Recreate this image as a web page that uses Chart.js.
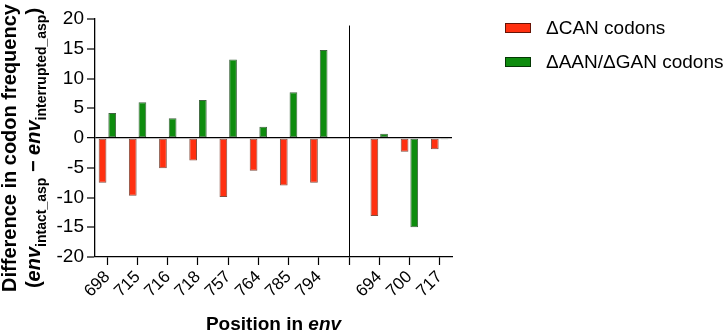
<!DOCTYPE html>
<html><head><meta charset="utf-8">
<script src="https://cdn.jsdelivr.net/npm/chart.js@4/dist/chart.umd.min.js"></script>
<style>html,body{margin:0;padding:0;background:#fff;overflow:hidden}</style>
</head><body>
<canvas id="c" width="723" height="331"></canvas>
<script>
// ---- data ----
const positions = ['698','715','716','718','757','764','785','794','','694','700','717'];
const canValues = [-7.5,-9.7,-5.1,-3.8,-9.9,-5.5,-8.0,-7.5,null,-13.1,-2.3,-1.9];
const aanGanValues = [4.2,6.0,3.3,6.4,13.2,1.9,7.7,14.8,null,0.7,-15.0,-0.2];
const yTicks = [-20,-15,-10,-5,0,5,10,15,20];
const seriesLabels = ['\u0394CAN codons','\u0394AAN/\u0394GAN codons'];
const seriesColors = ['#FF3010','#0E8C0E'];
const yTitleLine1 = 'Difference in codon frequency';
const yTitleLine2 = [['(', 'n'], ['env', 'i'], ['intact_asp', 's'], [' \u2212 ', 'n'], ['env', 'i'], ['interrupted_asp', 's'], [')', 'n']];
const xTitle = [['Position in ', 'n'], ['env', 'i']];

const FAM = "'Liberation Sans', Arial, sans-serif";
Chart.defaults.font.family = FAM;
Chart.defaults.color = '#000';

function fontFor(kind, size) {
  if (kind === 'i') return 'italic bold ' + size + 'px ' + FAM;
  if (kind === 's') return 'bold ' + Math.round(size * 0.68) + 'px ' + FAM;
  return 'bold ' + size + 'px ' + FAM;
}
function drawRich(ctx, segs, size, cx, cy) {
  let total = 0;
  segs.forEach(s => { ctx.font = fontFor(s[1], size); total += ctx.measureText(s[0]).width; });
  let x = cx - total / 2;
  ctx.textAlign = 'left';
  ctx.textBaseline = 'alphabetic';
  segs.forEach(s => {
    ctx.font = fontFor(s[1], size);
    ctx.fillText(s[0], x, cy + (s[1] === 's' ? size * 0.28 : 0));
    x += ctx.measureText(s[0]).width;
  });
}

const extras = {
  id: 'extras',
  afterDatasetsDraw(chart) {
    const ctx = chart.ctx, xs = chart.scales.x, ys = chart.scales.y;
    // separator line at the empty category
    const sx = Math.round(xs.getPixelForValue(positions.indexOf(''))) + 0.5;
    ctx.save();
    ctx.strokeStyle = '#000';
    ctx.lineWidth = 1;
    ctx.beginPath();
    ctx.moveTo(sx, ys.getPixelForValue(18.9));
    ctx.lineTo(sx, chart.chartArea.bottom);
    ctx.stroke();
    ctx.restore();
  },
  afterDraw(chart) {
    const ctx = chart.ctx, ca = chart.chartArea;
    ctx.save();
    ctx.fillStyle = '#000';
    // y title
    const cy = 148;
    ctx.save();
    ctx.translate(16, cy);
    ctx.rotate(-Math.PI / 2);
    ctx.font = 'bold 20px ' + FAM;
    ctx.textAlign = 'center';
    ctx.textBaseline = 'alphabetic';
    ctx.fillText(yTitleLine1, 0, 0);
    ctx.restore();
    ctx.save();
    ctx.translate(40, cy);
    ctx.rotate(-Math.PI / 2);
    drawRich(ctx, yTitleLine2, 20, 0, 0);
    ctx.restore();
    // x title
    drawRich(ctx, xTitle, 19, (ca.left + ca.right) / 2, 330);
    // legend
    chart.data.datasets.forEach((ds, i) => {
      const by = 23 + i * 34;
      ctx.fillStyle = ds.backgroundColor;
      ctx.fillRect(505, by, 26, 10);
      ctx.strokeStyle = 'rgba(0,0,0,0.6)';
      ctx.lineWidth = 1;
      ctx.strokeRect(505.5, by + 0.5, 25, 9);
      ctx.fillStyle = '#000';
      ctx.font = '19px ' + FAM;
      ctx.textAlign = 'left';
      ctx.textBaseline = 'middle';
      ctx.fillText(ds.label, 546, by + 6);
    });
    ctx.restore();
  }
};

new Chart(document.getElementById('c'), {
  type: 'bar',
  data: {
    labels: positions,
    datasets: [
      { label: seriesLabels[0], data: canValues, backgroundColor: seriesColors[0], borderColor: 'rgba(90,20,0,0.75)', borderWidth: 1, borderSkipped: false },
      { label: seriesLabels[1], data: aanGanValues, backgroundColor: seriesColors[1], borderColor: 'rgba(0,50,0,0.75)', borderWidth: 1, borderSkipped: false }
    ]
  },
  options: {
    responsive: false,
    animation: false,
    events: [],
    layout: { padding: { left: 0, top: 19, right: 271, bottom: 0 } },
    datasets: { bar: { categoryPercentage: 0.64, barPercentage: 0.8 } },
    plugins: { legend: { display: false }, tooltip: { enabled: false }, title: { display: false } },
    scales: {
      x: {
        offset: false,
        grid: { offset: false, drawOnChartArea: false, tickLength: 8, tickColor: '#000', tickWidth: 1.2 },
        border: { display: true, color: '#000', width: 1.3 },
        ticks: { minRotation: 45, maxRotation: 45, autoSkip: false, padding: 2, font: { size: 17 }, color: '#000' },
        afterBuildTicks: s => { s._startValue = -0.41; s._valueRange = positions.length - 1 + 0.82; },
        afterFit: s => { s.height = 74; }
      },
      y: {
        min: yTicks[0], max: yTicks[yTicks.length - 1],
        afterBuildTicks: s => { s.ticks = yTicks.map(v => ({ value: v })); },
        grid: {
          drawOnChartArea: true,
          color: c => (c.tick && c.tick.value === 0 ? '#000' : 'rgba(0,0,0,0)'),
          lineWidth: c => (c.tick && c.tick.value === 0 ? 1.3 : 0),
          tickLength: 8, tickColor: '#000', tickWidth: 1.2
        },
        border: { display: true, color: '#000', width: 1.3 },
        ticks: { padding: 3, font: { size: 19 }, color: '#000' },
        afterFit: s => { s.width = 95; }
      }
    }
  },
  plugins: [extras]
});
</script>
</body></html>
